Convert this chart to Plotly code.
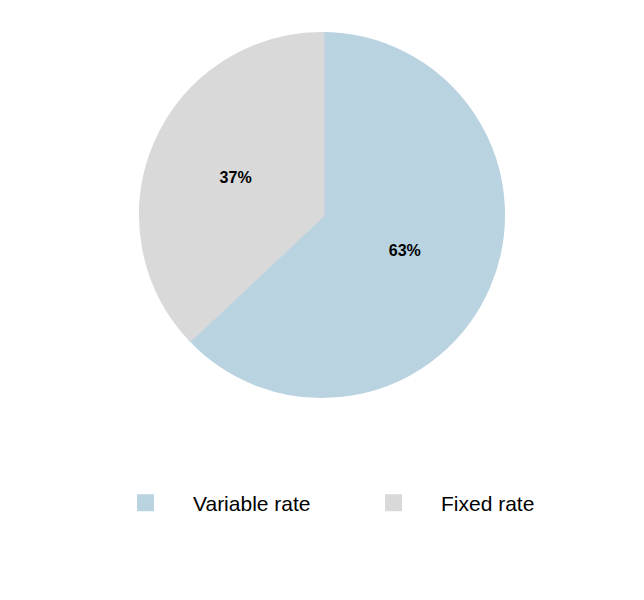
import plotly.graph_objects as go

labels = ["Variable rate", "Fixed rate"]
values = [63, 37]
colors = ["#BAD3E0", "#D9D9D9"]

W, H = 644, 600
LW = 5  # outline in slice colour (also enlarges legend swatches)

fig = go.Figure(
    go.Pie(
        labels=labels,
        values=values,
        sort=False,
        direction="clockwise",
        rotation=0,
        marker=dict(colors=colors, line=dict(width=LW, color=colors)),
        textinfo="percent",
        texttemplate="<b>%{percent:.0%}</b>",
        textposition="inside",
        insidetextorientation="horizontal",
        textfont=dict(family="Liberation Sans, Arial, sans-serif", size=16, color="#000000"),
        domain=dict(x=[(139 + LW / 2) / W, (505 - LW / 2) / W],
                    y=[1 - (398 - LW / 2) / H, 1 - (32 + LW / 2) / H]),
        hoverinfo="label+percent",
    )
)

fig.update_layout(
    width=W,
    height=H,
    margin=dict(l=0, r=0, t=0, b=0),
    paper_bgcolor="white",
    plot_bgcolor="white",
    showlegend=True,
    legend=dict(
        orientation="h",
        x=98 / W,
        xanchor="left",
        y=1 - 503 / H,
        yanchor="middle",
        font=dict(family="Liberation Sans, Arial, sans-serif", size=21, color="#000000"),
        itemwidth=85,
        entrywidth=148,
        entrywidthmode="pixels",
        traceorder="normal",
    ),
)

fig.write_html("out.html", config={"displayModeBar": False},
               post_script="document.body.style.margin='0';")
